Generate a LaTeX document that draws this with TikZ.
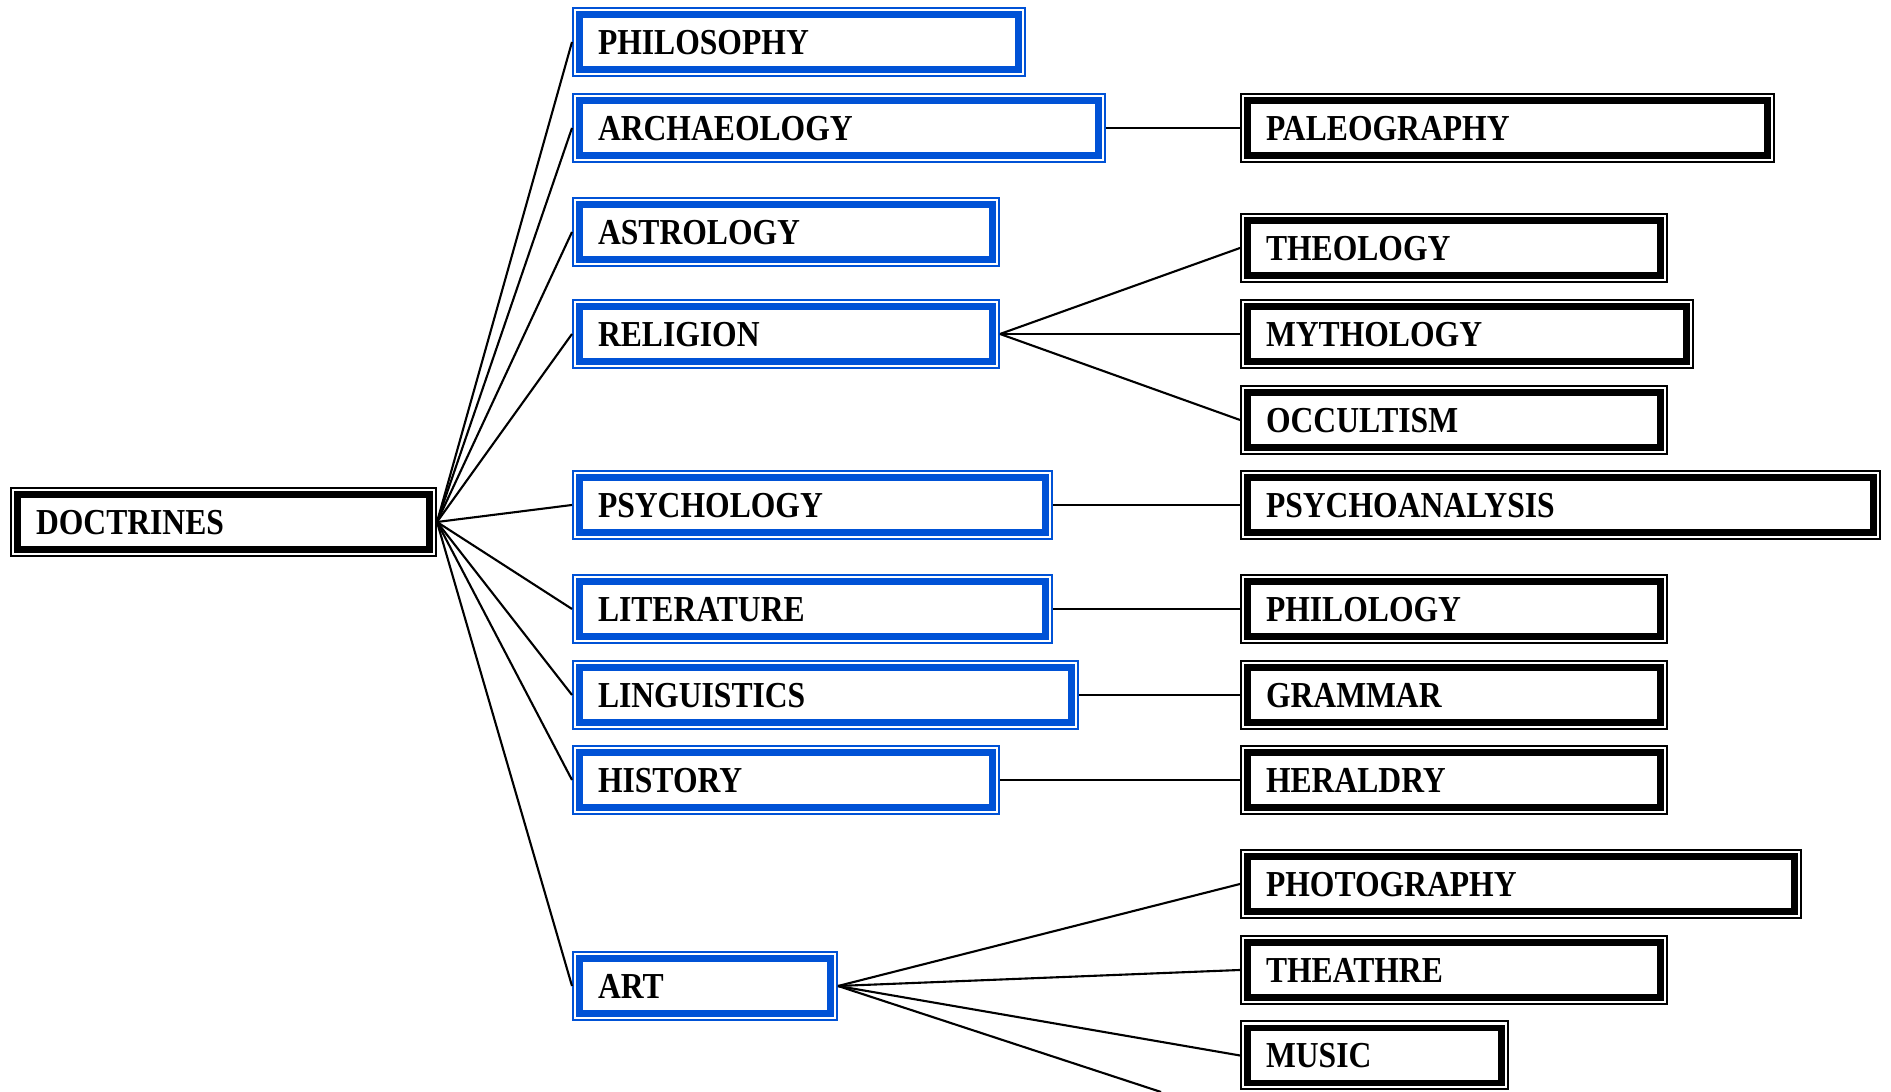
\documentclass[tikz,border=0pt]{standalone}
\usepackage{fontspec}
\setmainfont[FakeStretch=0.865]{Liberation Serif}
\usepackage{xcolor}
\definecolor{boxblue}{RGB}{0,82,214}

\begin{document}
\begin{tikzpicture}[
        box/.style={rectangle, anchor=west, fill=white, line width=0.065cm, outer sep=0.075cm,
            inner xsep=0.185cm, inner ysep=0pt, minimum height=0.55cm, text height=6.9pt, text depth=0pt,
            align=left, text width=#1, font=\fontsize{10.4}{12}\selectfont\bfseries},
        bluebox/.style={box=#1, draw=boxblue,
            preaction={draw=boxblue, line width=0.15cm},
            preaction={draw=white, line width=0.11cm}},
        blackbox/.style={box=#1, draw=black,
            preaction={draw=black, line width=0.15cm},
            preaction={draw=white, line width=0.11cm}},
        link/.style={line width=0.6pt}
    ]
        \useasboundingbox (0,0) rectangle (18.91,10.92);
        % root
        \node[blackbox=3.75cm] (doctrines) at (0.10,5.70) {DOCTRINES};
        % first level
        \node[bluebox=4.02cm] (philosophy) at (5.72,10.50) {PHILOSOPHY};
        \node[bluebox=4.82cm] (archaeology) at (5.72,9.64) {ARCHAEOLOGY};
        \node[bluebox=3.76cm] (astrology) at (5.72,8.60) {ASTROLOGY};
        \node[bluebox=3.76cm] (religion) at (5.72,7.58) {RELIGION};
        \node[bluebox=4.29cm] (psychology) at (5.72,5.87) {PSYCHOLOGY};
        \node[bluebox=4.29cm] (literature) at (5.72,4.83) {LITERATURE};
        \node[bluebox=4.55cm] (linguistics) at (5.72,3.97) {LINGUISTICS};
        \node[bluebox=3.76cm] (history) at (5.72,3.12) {HISTORY};
        \node[bluebox=2.14cm] (art) at (5.72,1.06) {ART};
        % second level
        \node[blackbox=4.83cm] (paleography) at (12.40,9.64) {PALEOGRAPHY};
        \node[blackbox=3.76cm] (theology) at (12.40,8.44) {THEOLOGY};
        \node[blackbox=4.02cm] (mythology) at (12.40,7.58) {MYTHOLOGY};
        \node[blackbox=3.76cm] (occultism) at (12.40,6.72) {OCCULTISM};
        \node[blackbox=5.89cm] (psychoanalysis) at (12.40,5.87) {PSYCHOANALYSIS};
        \node[blackbox=3.76cm] (philology) at (12.40,4.83) {PHILOLOGY};
        \node[blackbox=3.76cm] (grammar) at (12.40,3.97) {GRAMMAR};
        \node[blackbox=3.76cm] (heraldry) at (12.40,3.12) {HERALDRY};
        \node[blackbox=5.10cm] (photography) at (12.40,2.08) {PHOTOGRAPHY};
        \node[blackbox=3.76cm] (theathre) at (12.40,1.22) {THEATHRE};
        \node[blackbox=2.17cm] (music) at (12.40,0.365) {MUSIC};
        \coordinate (artend) at (11.61,0);
        % connectors
        \foreach \n in {philosophy,archaeology,astrology,religion,psychology,literature,linguistics,history,art}
            \draw[link] (doctrines.east) -- (\n.west);
        \draw[link] (archaeology.east) -- (paleography.west);
        \foreach \n in {theology,mythology,occultism}
            \draw[link] (religion.east) -- (\n.west);
        \draw[link] (psychology.east) -- (psychoanalysis.west);
        \draw[link] (literature.east) -- (philology.west);
        \draw[link] (linguistics.east) -- (grammar.west);
        \draw[link] (history.east) -- (heraldry.west);
        \foreach \n in {photography,theathre,music}
            \draw[link] (art.east) -- (\n.west);
        \draw[link] (art.east) -- (artend);
    \end{tikzpicture}
\end{document}
